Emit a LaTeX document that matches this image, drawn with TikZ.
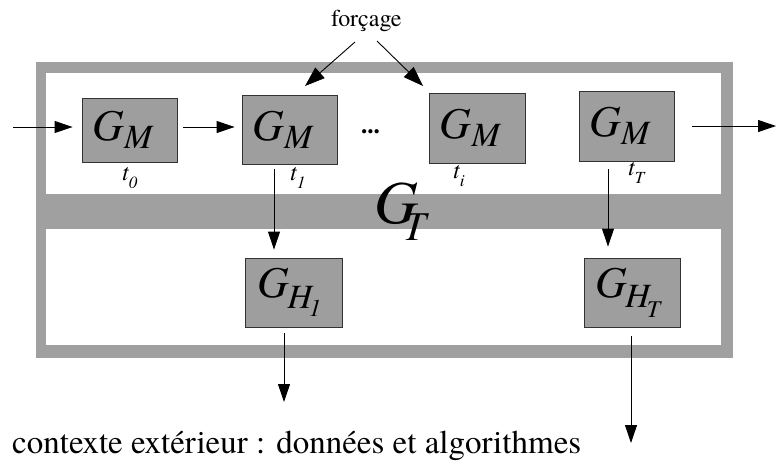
\documentclass[tikz,border=0pt]{standalone}
\usepackage{fontspec}
\setmainfont{TeX Gyre Termes}
\usetikzlibrary{arrows.meta}
\definecolor{framegray}{RGB}{160,160,160}
\definecolor{boxgray}{RGB}{158,158,158}
\newcommand{\fsz}[1]{\fontsize{#1}{#1}\selectfont}
\newcommand{\GM}{{\fsz{44}\itshape G\raisebox{-8pt}{\fsz{34}M}}\kern14pt}
\newcommand{\GHone}{{\fsz{44}\itshape G\kern-2pt\raisebox{-11pt}{\fsz{34}H\kern-3pt\raisebox{-8pt}{\fsz{24}1}}}\kern8pt}
\newcommand{\GHT}{{\fsz{44}\itshape G\kern-2pt\raisebox{-10pt}{\fsz{34}H\kern-3pt\raisebox{-10pt}{\fsz{24}T}}}\kern8pt}
\newcommand{\tlab}[1]{{\fsz{24}\itshape t\raisebox{-8pt}{\fsz{17}#1}}}
\begin{document}
\begin{tikzpicture}[x=1pt,y=-1pt,
  box/.style={draw=black!80,line width=0.9pt,fill=boxgray,inner sep=0pt,minimum width=#1,minimum height=69pt},
  arr/.style={line width=0.9pt,-{Triangle[length=18pt,width=12pt]}},
  farr/.style={line width=0.9pt,-{Triangle[length=20pt,width=14pt]}},
  lab/.style={inner sep=0pt,anchor=base west}]
\useasboundingbox (0,0) rectangle (776,463);
% frame
\fill[framegray] (36,62) rectangle (733,358);
\fill[white] (46,73) rectangle (721,194);
\fill[white] (46,229) rectangle (721,345);
% boxes
\node[box=95pt,minimum height=64pt] (m0) at (129.5,130) {\GM};
\node[box=95pt] (m1) at (289.5,129.5) {\GM};
\node[box=96pt,minimum height=70pt] (mi) at (477,128) {\GM};
\node[box=95pt,minimum height=70pt] (mT) at (626.5,126) {\GM};
\node[box=97pt] (h1) at (293.5,292.5) {\GHone};
\node[box=96pt] (hT) at (632,292.5) {\GHT};
% labels
\node[lab] (t0) at (122,180) {\tlab{0}};
\node[lab] (t1) at (290,180) {\tlab{1}};
\node[lab] (ti) at (453,178) {\tlab{i}};
\node[lab] (tT) at (628,175) {\tlab{T}};
\node[lab] (dots) at (361,133) {\fsz{25}\bfseries...};
\node[lab] (GT) at (374,223) {\fsz{61}\itshape G\kern-15pt\raisebox{-17pt}{\fsz{41}T}};
\node[lab] (f) at (331,27) {\fsz{24}forçage};
\node[lab] (ctx) at (12,453) {\fsz{33}contexte extérieur : données et algorithmes};
% free ends
\coordinate (inS) at (13,127);
\coordinate (outE) at (776,126);
\coordinate (fs1) at (355,42);
\coordinate (fs2) at (377,41);
\coordinate (fe1) at (305,86);
\coordinate (fe2) at (423,86);
\coordinate (o1) at (284,402);
\coordinate (o2) at (631,443);
% connectors
\draw[arr] (inS) -- (inS -| m0.west) [shorten >=9pt];
\draw[arr,shorten <=6pt,shorten >=7pt] ([yshift=3pt]m0.east) -- ([yshift=3pt]m0.east -| m1.west);
\draw[arr,shorten <=18pt] (outE -| mT.east) -- (outE);
\draw[farr] (fs1) -- (fe1);
\draw[farr] (fs2) -- (fe2);
\draw[arr,shorten <=5pt,shorten >=8pt] ([xshift=-15.5pt]m1.south) -- ([xshift=-15.5pt]m1.south |- h1.north);
\draw[arr,shorten <=8pt,shorten >=11pt] ([xshift=-18.5pt]mT.south) -- ([xshift=-18.5pt]mT.south |- hT.north);
\draw[arr,shorten <=6pt] (o1 |- h1.south) -- (o1);
\draw[arr,shorten <=9pt] (o2 |- hT.south) -- (o2);
\end{tikzpicture}
\end{document}
